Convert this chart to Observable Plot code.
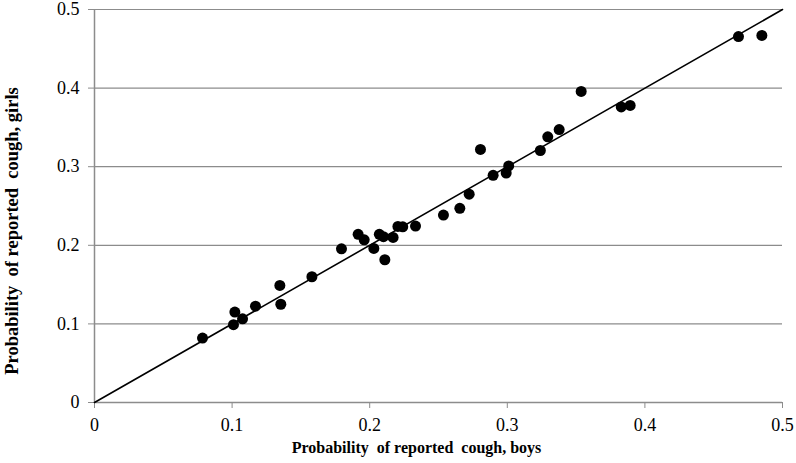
<!DOCTYPE html>
<html>
<head>
<meta charset="utf-8">
<script src="https://cdn.jsdelivr.net/npm/d3@7"></script>
<script src="https://cdn.jsdelivr.net/npm/@observablehq/plot@0.6"></script>
<style>
  html, body { margin: 0; padding: 0; background: #fff; }
  #chart svg { display: block; }
  #chart svg text { font-family: "Liberation Serif", "Times New Roman", serif; }
</style>
</head>
<body>
<div id="chart"></div>
<script>
const boys = [0.0785, 0.101, 0.102, 0.1076, 0.117, 0.1347, 0.1354, 0.158, 0.1795, 0.1916,
  0.196, 0.203, 0.207, 0.210, 0.211, 0.217, 0.2205, 0.224, 0.2333, 0.2536, 0.2655, 0.2723,
  0.2805, 0.2897, 0.2992, 0.301, 0.324, 0.3294, 0.3377, 0.3537, 0.3828, 0.3893, 0.468, 0.485];
const girls = [0.082, 0.099, 0.115, 0.1065, 0.1226, 0.149, 0.125, 0.160, 0.1955, 0.214,
  0.207, 0.196, 0.214, 0.211, 0.1816, 0.210, 0.224, 0.2235, 0.2244, 0.2384, 0.247, 0.265,
  0.322, 0.289, 0.292, 0.301, 0.3206, 0.338, 0.3472, 0.3957, 0.376, 0.378, 0.4656, 0.467];
const tickValues = [0, 0.1, 0.2, 0.3, 0.4, 0.5];
const diagonal = [0, 0.5];
const xTitle = "Probability  of reported  cough, boys";
const yTitle = "Probability  of reported  cough, girls";

const points = boys.map((b, i) => ({boys: b, girls: girls[i]}));
const fmt = d => d === 0 ? "0" : d.toFixed(1);
const serif = "'Liberation Serif', 'Times New Roman', serif";

const chart = Plot.plot({
  width: 796,
  height: 463,
  marginLeft: 94,
  marginRight: 14,
  marginTop: 9,
  marginBottom: 61,
  style: {fontFamily: serif, fontSize: "18px", color: "#000", background: "#fff"},
  x: {domain: [0, 0.5]},
  y: {domain: [0, 0.5]},
  marks: [
    Plot.gridY(tickValues, {stroke: "#8c8c8c", strokeOpacity: 1, strokeWidth: 1.2}),
    Plot.ruleX([0], {stroke: "#8c8c8c", strokeWidth: 1.5}),
    Plot.ruleY([0], {stroke: "#8c8c8c", strokeWidth: 1.5}),
    Plot.axisX(tickValues, {tickFormat: fmt, tickSize: 6, stroke: "#8c8c8c", tickPadding: 10,
      label: null, fill: "#000", fontFamily: serif, fontSize: 18}),
    Plot.axisY(tickValues, {tickFormat: fmt, tickSize: 6, stroke: "#8c8c8c", tickPadding: 9,
      label: null, fill: "#000", fontFamily: serif, fontSize: 18}),
    Plot.text([xTitle], {frameAnchor: "bottom", dx: -22, dy: 50, text: d => d, fontWeight: "bold",
      fontSize: 16, fontFamily: serif}),
    Plot.text([yTitle], {frameAnchor: "left", dx: -82, dy: 25, rotate: -90, textAnchor: "middle",
      text: d => d, fontWeight: "bold", fontSize: 18.5, fontFamily: serif}),
    Plot.line(diagonal, {x: d => d, y: d => d, stroke: "#000", strokeWidth: 1.6}),
    Plot.dot(points, {x: "boys", y: "girls", r: 5.5, fill: "#000", stroke: null})
  ]
});
document.getElementById("chart").append(chart);
</script>
</body>
</html>
